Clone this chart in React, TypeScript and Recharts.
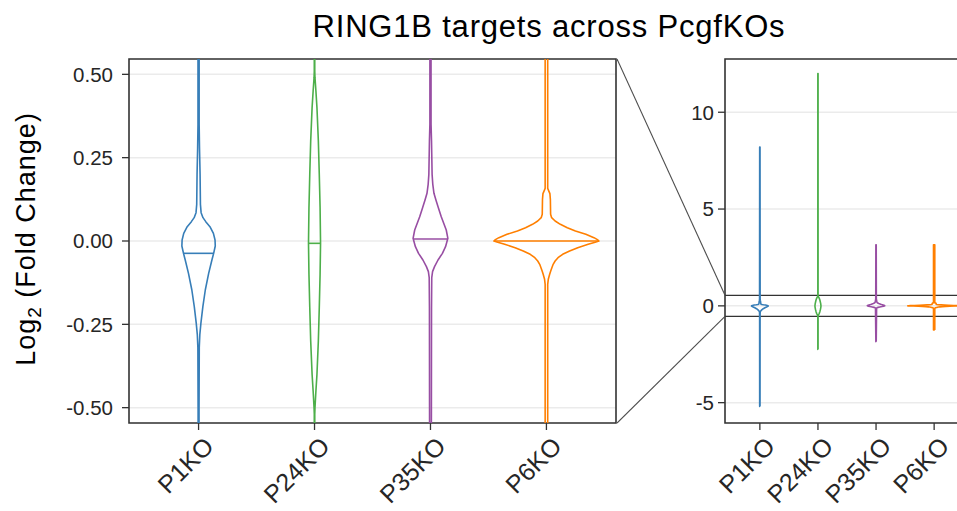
import React from "react";
import {
  ScatterChart,
  Scatter,
  XAxis,
  YAxis,
  CartesianGrid,
  ReferenceLine,
  ReferenceArea,
} from "recharts";

const groups = ["P1KO", "P24KO", "P35KO", "P6KO"];
const colors = ["#377EB8", "#4DAF4A", "#984EA3", "#FF7F00"];

// violin outlines: [log2 fold change, half-width in category units]
const p1Profile = [
  [-5.2, 0.003], [-0.5, 0.004], [-0.32, 0.006], [-0.28, 0.011], [-0.247, 0.02],
  [-0.197, 0.037], [-0.147, 0.058], [-0.097, 0.087], [-0.057, 0.115], [-0.037, 0.13],
  [-0.015, 0.144], [0.003, 0.142], [0.023, 0.128], [0.043, 0.098], [0.058, 0.062],
  [0.07, 0.038], [0.085, 0.022], [0.11, 0.016], [0.2, 0.013], [0.28, 0.008],
  [0.35, 0.005], [8.2, 0.003],
];
const p24Profile = [
  [-2.25, 0.002], [-0.52, 0.002], [-0.5, 0.004], [-0.45, 0.012], [-0.4, 0.021],
  [-0.3, 0.033], [-0.2, 0.041], [-0.1, 0.048], [-0.007, 0.052], [0.1, 0.048],
  [0.2, 0.041], [0.3, 0.033], [0.4, 0.021], [0.45, 0.012], [0.49, 0.004],
  [0.51, 0.002], [12.0, 0.002],
];
const p35Profile = [
  [-1.85, 0.003], [-0.5, 0.008], [-0.2, 0.009], [-0.11, 0.011], [-0.092, 0.018],
  [-0.077, 0.035], [-0.057, 0.065], [-0.037, 0.103], [-0.017, 0.13], [0.008, 0.15],
  [0.033, 0.136], [0.073, 0.093], [0.1, 0.068], [0.123, 0.047], [0.143, 0.03],
  [0.17, 0.02], [0.2, 0.014], [0.3, 0.009], [0.35, 0.005], [3.15, 0.003],
];
const p6Profile = [
  [-1.25, 0.011], [-0.13, 0.011], [-0.115, 0.016], [-0.1, 0.028], [-0.09, 0.037],
  [-0.08, 0.047], [-0.07, 0.058], [-0.06, 0.075], [-0.05, 0.1], [-0.04, 0.14],
  [-0.03, 0.2], [-0.02, 0.27], [-0.01, 0.36], [-0.004, 0.42], [0.0, 0.453],
  [0.004, 0.44], [0.01, 0.41], [0.02, 0.34], [0.03, 0.25], [0.04, 0.18],
  [0.05, 0.12], [0.06, 0.075], [0.07, 0.045], [0.08, 0.036], [0.125, 0.034],
  [0.142, 0.03], [0.152, 0.018], [0.158, 0.011], [3.15, 0.011],
];
const profiles = [p1Profile, p24Profile, p35Profile, p6Profile];

const medians = [-0.037, -0.007, 0.006, 0.0];
const medianHalfWidths = [0.13, 0.052, 0.15, 0.453];

const zoomTicks = [-0.5, -0.25, 0, 0.25, 0.5];
const fullTicks = [-5, 0, 5, 10];
const zoomRange = [-0.546, 0.546];
const fullRange = [-6.05, 12.75];

const X_DOMAIN = [0.4, 4.6];
const categoryTicks = [1, 2, 3, 4];

const FONT = "'Liberation Sans', Arial, Helvetica, sans-serif";
const INK = "#262626";
const FRAME = "#333333";
const VIOLIN_W = 1.6;

// layout of the two panels (px)
const PLOT_TOP = 59;
const PLOT_BOTTOM = 423;
const LEFT_W = 617;
const LEFT_AXIS_W = 129;
const RIGHT_X = 617;
const RIGHT_W = 360;
const RIGHT_PLOT_LEFT = 108;
const RIGHT_AXIS_W = 40;
const RIGHT_PLOT_W = 244;

const outline = (profile: number[][], center: number) => {
  const right = profile.map(([y, w]) => ({ x: center + w, y }));
  const left = [...profile].reverse().map(([y, w]) => ({ x: center - w, y }));
  return [...right, ...left, right[0]];
};

const NoDot = () => null;

const XTick = ({ x, y, payload }: any) => {
  const ax = x + 4;
  return (
    <text
      x={ax}
      y={y}
      transform={`rotate(-45 ${ax} ${y})`}
      textAnchor="end"
      dy="0.72em"
      fontSize={25}
      fill={INK}
      fontFamily={FONT}
    >
      {groups[payload.value - 1]}
    </text>
  );
};

const yTickStyle = { fill: INK, fontSize: 20.5, fontFamily: FONT };

export default function App() {
  const rightUnitPx = RIGHT_PLOT_W / (X_DOMAIN[1] - X_DOMAIN[0]);
  const connectorX = X_DOMAIN[0] - RIGHT_PLOT_LEFT / rightUnitPx;

  const violins = profiles.map((profile, i) => (
    <Scatter
      key={groups[i]}
      data={outline(profile, i + 1)}
      line={{ stroke: colors[i], strokeWidth: VIOLIN_W, strokeLinejoin: "round" }}
      lineType="joint"
      shape={NoDot}
      fill="none"
      isAnimationActive={false}
    />
  ));

  const categoryAxis = (
    <XAxis
      type="number"
      dataKey="x"
      domain={X_DOMAIN}
      ticks={categoryTicks}
      allowDataOverflow
      axisLine={false}
      tickLine={{ stroke: FRAME, strokeWidth: 1.3 }}
      tickSize={7}
      tickMargin={5}
      height={511 - PLOT_BOTTOM}
      tick={<XTick />}
      interval={0}
    />
  );

  return (
    <div
      style={{
        position: "absolute",
        left: 0,
        top: 0,
        width: 957,
        height: 511,
        overflow: "hidden",
        background: "#ffffff",
        fontFamily: FONT,
      }}
    >
      <div style={{ position: "absolute", left: 0, top: 0 }}>
        <ScatterChart
          width={LEFT_W}
          height={511}
          margin={{ top: PLOT_TOP, right: 1, bottom: 0, left: 0 }}
        >
          <CartesianGrid vertical={false} stroke="#EBEBEB" strokeWidth={1.5} />
          {categoryAxis}
          <YAxis
            type="number"
            dataKey="y"
            domain={zoomRange}
            ticks={zoomTicks}
            allowDataOverflow
            width={LEFT_AXIS_W}
            axisLine={false}
            tickLine={{ stroke: FRAME, strokeWidth: 1.3 }}
            tickSize={7}
            tickMargin={9}
            tick={yTickStyle}
            tickFormatter={(v: number) => v.toFixed(2)}
            interval={0}
          />
          {violins}
          {medians.map((m, i) => (
            <ReferenceLine
              key={`med-${groups[i]}`}
              segment={[
                { x: i + 1 - medianHalfWidths[i], y: m },
                { x: i + 1 + medianHalfWidths[i], y: m },
              ]}
              stroke={colors[i]}
              strokeWidth={VIOLIN_W}
              ifOverflow="visible"
            />
          ))}
          <ReferenceArea
            x1={X_DOMAIN[0]}
            x2={X_DOMAIN[1]}
            y1={zoomRange[0]}
            y2={zoomRange[1]}
            fill="none"
            stroke={FRAME}
            strokeWidth={1.6}
            strokeOpacity={1}
            ifOverflow="visible"
          />
        </ScatterChart>
      </div>

      <div style={{ position: "absolute", left: RIGHT_X, top: 0 }}>
        <ScatterChart
          width={RIGHT_W}
          height={511}
          margin={{
            top: PLOT_TOP,
            right: RIGHT_W - RIGHT_PLOT_LEFT - RIGHT_PLOT_W,
            bottom: 0,
            left: RIGHT_PLOT_LEFT - RIGHT_AXIS_W,
          }}
        >
          <CartesianGrid vertical={false} stroke="#EBEBEB" strokeWidth={1.5} />
          {categoryAxis}
          <YAxis
            type="number"
            dataKey="y"
            domain={fullRange}
            ticks={fullTicks}
            allowDataOverflow
            width={RIGHT_AXIS_W}
            axisLine={false}
            tickLine={{ stroke: FRAME, strokeWidth: 1.3 }}
            tickSize={7}
            tickMargin={4}
            tick={yTickStyle}
            interval={0}
          />
          {violins}
          {/* zoom window and the connectors back to the zoomed panel */}
          <ReferenceLine y={zoomRange[1]} stroke={FRAME} strokeWidth={1.3} />
          <ReferenceLine y={zoomRange[0]} stroke={FRAME} strokeWidth={1.3} />
          <ReferenceLine
            segment={[
              { x: connectorX, y: fullRange[1] },
              { x: X_DOMAIN[0], y: zoomRange[1] },
            ]}
            stroke="#4d4d4d"
            strokeWidth={1.1}
            ifOverflow="visible"
          />
          <ReferenceLine
            segment={[
              { x: connectorX, y: fullRange[0] },
              { x: X_DOMAIN[0], y: zoomRange[0] },
            ]}
            stroke="#4d4d4d"
            strokeWidth={1.1}
            ifOverflow="visible"
          />
          <ReferenceArea
            x1={X_DOMAIN[0]}
            x2={X_DOMAIN[1]}
            y1={fullRange[0]}
            y2={fullRange[1]}
            fill="none"
            stroke={FRAME}
            strokeWidth={1.6}
            strokeOpacity={1}
            ifOverflow="visible"
          />
        </ScatterChart>
      </div>

      <svg
        width={957}
        height={511}
        style={{ position: "absolute", left: 0, top: 0, pointerEvents: "none" }}
      >
        <text
          x={549}
          y={37}
          textAnchor="middle"
          fontSize={31}
          fill="#000"
          fontFamily={FONT}
          letterSpacing={0.8}
        >
          RING1B targets across PcgfKOs
        </text>
        <text
          transform="rotate(-90)"
          x={-(PLOT_TOP + PLOT_BOTTOM) / 2 + 2}
          y={35}
          textAnchor="middle"
          fontSize={27}
          fill="#000"
          fontFamily={FONT}
          letterSpacing={1}
        >
          Log
          <tspan fontSize={19} dy={6}>2</tspan>
          <tspan dy={-6}> (Fold Change)</tspan>
        </text>
      </svg>
    </div>
  );
}
